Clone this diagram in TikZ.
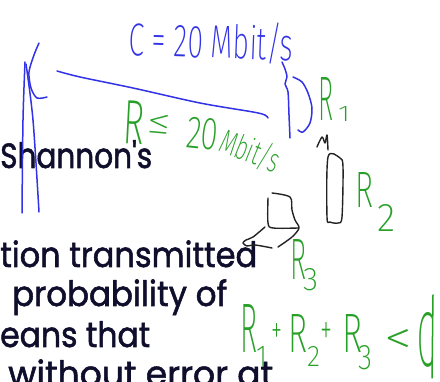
\documentclass[tikz,border=0pt]{standalone}
\usepackage{fontspec}
\usepackage{graphicx}
\newfontfamily\slidefont{Poppins}[FakeBold=1.6]
\IfFontExistsTF{Fira Sans ExtraLight}{\newfontfamily\hwfont{Fira Sans ExtraLight}}{%
  \IfFontExistsTF{FiraSans-ExtraLight.otf}{\newfontfamily\hwfont{FiraSans-ExtraLight.otf}}{\newfontfamily\hwfont{DejaVu Sans}}}
\definecolor{slidecol}{RGB}{15,15,45}
\definecolor{inkblue}{RGB}{50,50,230}
\definecolor{inkgreen}{RGB}{40,160,40}
\definecolor{inkblack}{RGB}{35,35,35}
\newcommand\hw[3]{\resizebox{#1pt}{#2pt}{\hwfont #3}}
\newcommand\sld[2]{\resizebox{#1pt}{\height}{\slidefont\fontsize{35}{35}\selectfont #2}}
\tikzset{
  slide/.style={inner sep=0, anchor=base west, text=slidecol},
  hwb/.style={inner sep=0, anchor=base west},
  hwc/.style={inner sep=0, anchor=center},
  blueink/.style={draw=inkblue, line width=1.5pt, line cap=round, line join=round},
  blackink/.style={draw=inkblack, line width=1.4pt, line cap=round, line join=round},
  greenink/.style={draw=inkgreen, line width=1.5pt, line cap=round, line join=round}
}
\begin{document}
\begin{tikzpicture}[x=1pt,y=-1pt]
\useasboundingbox (0,0) rectangle (440,382);
\fill[white] (0,0) rectangle (440,382);
\clip (0,0) rectangle (440,382);
% slide text
\node[slide] (t1) at (0,168) {\sld{152}{Shannon\textquotesingle s}};
\node[slide] (t2) at (0,267) {\sld{257}{tion transmitted}};
\node[slide] (t3) at (12,306) {\sld{215}{probability of}};
\node[slide] (t4) at (0,347) {\sld{150}{eans that}};
\node[slide] (t5) at (8,386) {\sld{265}{without error at}};
% blue ink
\draw[blueink] plot[smooth] coordinates {(39,43) (34,55) (29,72) (31,88) (37,98) (47,97)};
\draw[blueink] plot[smooth] coordinates {(25,62) (23,120) (22,213)};
\draw[blueink] plot[smooth] coordinates {(26,64) (33,120) (39,212)};
\draw[blueink] plot[smooth] coordinates {(57,71) (80,77) (133,88) (200,103) (253,112) (265,115) (268,118)};
\draw[blueink] plot[smooth] coordinates {(282,62) (285,69) (287,77) (285,84) (288,92) (289,115) (290,138)};
\draw[blueink] plot[smooth] coordinates {(293,77) (302,82) (308,93) (312,108) (310,123) (303,132) (298,130)};
\node[hwb, text=inkblue, rotate=-2] (cap) at (128,55) {\hw{165}{37}{C = 20 Mbit/s}};
% green ink
\node[hwb, text=inkgreen, rotate=-3] (rR) at (122,143) {\hw{21}{43}{R}};
\node[hwc, text=inkgreen, rotate=-5] (rle) at (159,124) {\hw{24}{19}{≤}};
\node[hwb, text=inkgreen, rotate=-6] (r20) at (185,147) {\hw{32}{31}{20}};
\node[hwb, text=inkgreen, rotate=-22] (rmb) at (217,150) {\hw{62}{27}{Mbit/s}};
\node[hwb, text=inkgreen] (a1R) at (318,121) {\hw{15}{43}{R}};
\node[hwb, text=inkgreen] (a1n) at (338,122) {\hw{12}{15}{1}};
\node[hwb, text=inkgreen] (a2R) at (355,208) {\hw{18}{35}{R}};
\node[hwb, text=inkgreen] (a2n) at (377,232) {\hw{18}{27}{2}};
\node[hwb, text=inkgreen] (a3R) at (290,280) {\hw{16}{40}{R}};
\node[hwb, text=inkgreen] (a3n) at (303,291) {\hw{15}{22}{3}};
\node[hwb, text=inkgreen] (s1R) at (240,353) {\hw{17}{48}{R}};
\node[hwb, text=inkgreen] (s1n) at (256,367) {\hw{11}{20}{1}};
\node[hwc, text=inkgreen] (sp1) at (277,333) {\hw{11}{20}{+}};
\node[hwb, text=inkgreen] (s2R) at (288,353) {\hw{19}{38}{R}};
\node[hwb, text=inkgreen] (s2n) at (307,367) {\hw{13}{20}{2}};
\node[hwc, text=inkgreen] (sp2) at (326,333) {\hw{12}{22}{+}};
\node[hwb, text=inkgreen] (s3R) at (342,353) {\hw{20}{38}{R}};
\node[hwb, text=inkgreen] (s3n) at (358,370) {\hw{14}{24}{3}};
\node[hwc, text=inkgreen] (slt) at (399,342) {\hw{28}{25}{<}};
\node[hwb, text=inkgreen] (sC) at (417,367) {\hw{17}{54}{C}};
\draw[greenink] (433,295) -- (432,378);
% black ink
\draw[blackink] plot[smooth] coordinates {(317,147) (322,137) (325,143) (327,135) (328,150)};
\draw[blackink] plot[smooth cycle] coordinates {(328,157) (340,158) (343,167) (342,217) (338,223) (330,222) (327,217)};
\draw[blackink] plot[smooth] coordinates {(272,193) (290,197) (292,210) (295,220) (299,228) (292,237) (278,247)};
\draw[blackink] plot[smooth] coordinates {(268,198) (268,223) (273,228) (298,228)};
\draw[blackink] plot[smooth] coordinates {(265,227) (253,237) (246,240) (243,243) (247,246) (255,245) (272,248)};
\end{tikzpicture}
\end{document}
